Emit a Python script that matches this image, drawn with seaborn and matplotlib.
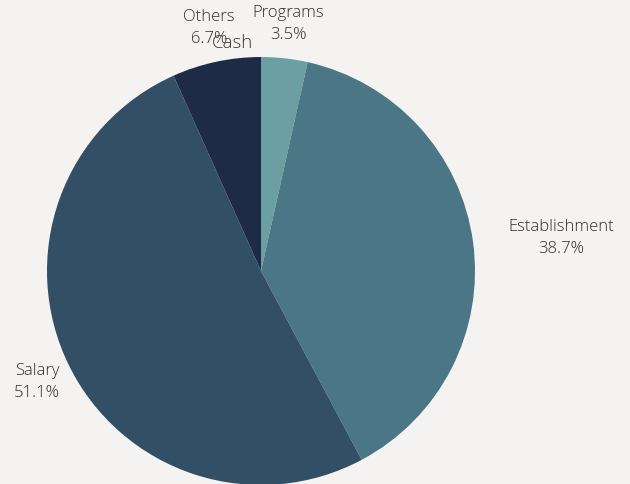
import numpy as np
import matplotlib
matplotlib.use("Agg")
import matplotlib.pyplot as plt
import seaborn as sns

categories = ["Programs", "Establishment", "Salary", "Others"]
values = [3.5, 38.7, 51.1, 6.7]
colors = ["#6b9fa1", "#4b7685", "#324f66", "#1e2b46"]
title = "Cash"

sns.set_theme(style="white")
plt.rcParams["font.family"] = ["Open Sans", "DejaVu Sans"]

bg = "#f5f3f1"
fig = plt.figure(figsize=(6.3, 4.85), dpi=100, facecolor=bg)
ax = fig.add_axes([0, 0, 1, 1])
ax.set_facecolor(bg)

wedges, _ = ax.pie(values, colors=colors, startangle=90, counterclock=False,
                   radius=1.0, center=(0, 0),
                   wedgeprops=dict(linewidth=0))

total = sum(values)
d = 1.166
for w, cat, v in zip(wedges, categories, values):
    ang = np.deg2rad((w.theta1 + w.theta2) / 2)
    x, y = d * np.cos(ang), d * np.sin(ang)
    ha = "left" if x > 0.5 else "center"
    ax.text(x, y, f"{cat}\n{v / total * 100:.1f}%", ha=ha, va="center",
            multialignment="center", fontsize=12, fontweight="light",
            color="#2e2e2e", linespacing=1.5)

ax.text(-0.131, 1.07, title, ha="center", va="center", fontsize=13.5,
        fontweight="light", color="#3a3a3a")

ax.set_xlim(-261 / 214, (630 - 261) / 214)
ax.set_ylim(-213 / 214, 272 / 214)
ax.set_aspect("equal")
ax.axis("off")

fig.savefig("out.png", dpi=100, facecolor=bg)
